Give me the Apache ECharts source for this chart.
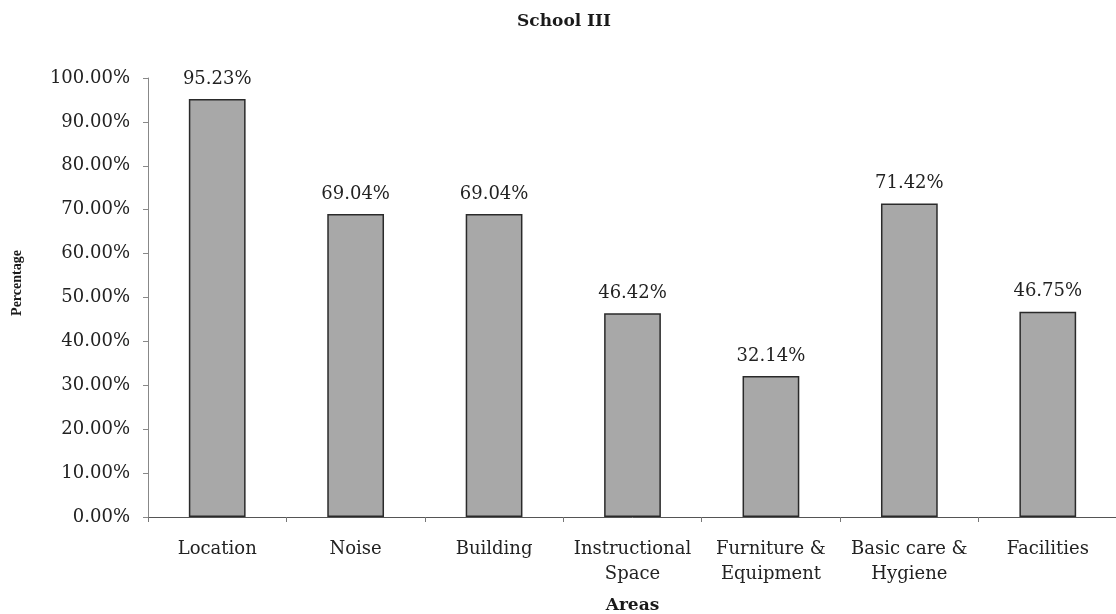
<!DOCTYPE html>
<html>
<head>
<meta charset="utf-8">
<script src="https://cdn.jsdelivr.net/npm/echarts@6/dist/echarts.min.js"></script>
<style>
  html, body { margin: 0; padding: 0; background: #fff; }
  #chart { width: 1116px; height: 614px; }
</style>
</head>
<body>
<div id="chart"></div>
<script>
// Areas assessed and the share (%) recorded for each
const categories = ['Location', 'Noise', 'Building', 'Instructional\nSpace', 'Furniture &\nEquipment', 'Basic care &\nHygiene', 'Facilities'];
const values = [95.23, 69.04, 69.04, 46.42, 32.14, 71.42, 46.75];
const yTicks = [0, 10, 20, 30, 40, 50, 60, 70, 80, 90, 100];

const serif = '"DejaVu Serif", "Liberation Serif", serif';
const narrowSerif = '"Liberation Serif", "DejaVu Serif", serif';
const chart = echarts.init(document.getElementById('chart'));

chart.setOption({
  backgroundColor: '#ffffff',
  animation: false,
  title: {
    text: 'School III',
    left: 559,
    top: 8,
    textAlign: 'center',
    textStyle: { fontFamily: serif, fontSize: 17, fontWeight: 'bold', color: '#1a1a1a' }
  },
  grid: { left: 148, right: -1, top: 78, bottom: 97, containLabel: false, outerBoundsMode: 'none' },
  graphic: [{
    type: 'text',
    x: 17,
    y: 283,
    rotation: Math.PI / 2,
    style: {
      text: 'Percentage',
      align: 'center',
      verticalAlign: 'middle',
      fontFamily: narrowSerif,
      fontSize: 14,
      fontWeight: 'bold',
      fill: '#1a1a1a'
    }
  }],
  xAxis: {
    type: 'category',
    data: categories,
    name: 'Areas',
    nameLocation: 'middle',
    nameGap: 80,
    nameTextStyle: { fontFamily: serif, fontSize: 17, fontWeight: 'bold', color: '#1a1a1a' },
    axisLine: { lineStyle: { color: '#555', width: 1 } },
    axisTick: { show: true, alignWithLabel: false, length: 5, lineStyle: { color: '#777' } },
    axisLabel: {
      fontFamily: serif, fontSize: 18, color: '#222', margin: 20, lineHeight: 25, interval: 0
    }
  },
  yAxis: {
    type: 'value',
    min: 0,
    max: 100,
    interval: 10,
    axisLine: { show: true, lineStyle: { color: '#888', width: 1 } },
    axisTick: { show: true, length: 5, lineStyle: { color: '#888' } },
    splitLine: { show: false },
    axisLabel: {
      fontFamily: serif, fontSize: 18, color: '#222', margin: 18,
      formatter: v => yTicks.includes(v) ? v.toFixed(2) + '%' : ''
    }
  },
  series: [{
    type: 'bar',
    data: values,
    barWidth: '41%',
    itemStyle: { color: '#a8a8a8', borderColor: '#2a2a2a', borderWidth: 1.5 },
    label: {
      show: true,
      position: 'top',
      distance: 11,
      fontFamily: serif,
      fontSize: 18,
      color: '#222',
      formatter: p => p.value.toFixed(2) + '%'
    }
  }]
});
</script>
</body>
</html>
